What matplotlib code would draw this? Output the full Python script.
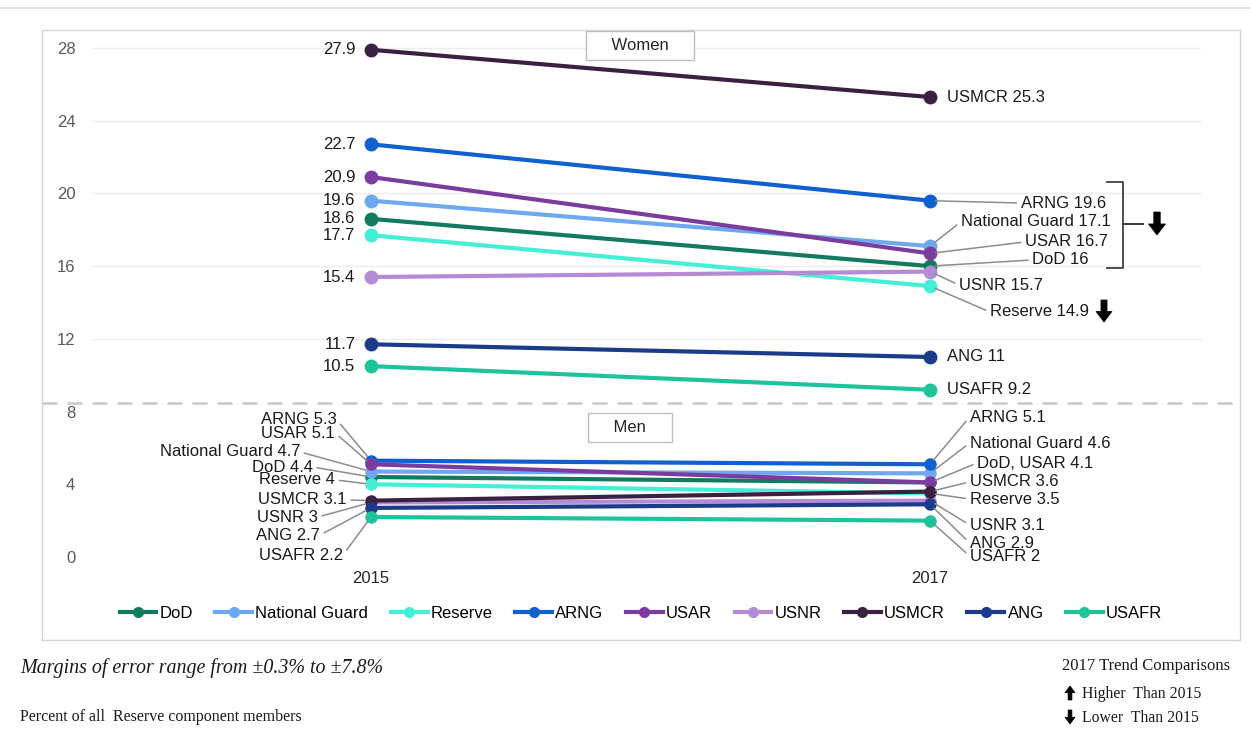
import matplotlib
matplotlib.use("Agg")
import matplotlib.pyplot as plt
from matplotlib.patches import Polygon
from matplotlib.lines import Line2D

W, H = 1250, 734

years = ["2015", "2017"]
series = ["DoD", "National Guard", "Reserve", "ARNG", "USAR", "USNR", "USMCR", "ANG", "USAFR"]
colors = ["#127B5E", "#6DA9F0", "#45EED6", "#1060CF", "#7C3C9E",
          "#B48BD5", "#3A2142", "#1C3C8A", "#1FC39B"]

women_2015 = [18.6, 19.6, 17.7, 22.7, 20.9, 15.4, 27.9, 11.7, 10.5]
women_2017 = [16.0, 17.1, 14.9, 19.6, 16.7, 15.7, 25.3, 11.0, 9.2]
men_2015 = [4.4, 4.7, 4.0, 5.3, 5.1, 3.0, 3.1, 2.7, 2.2]
men_2017 = [4.1, 4.6, 3.5, 5.1, 4.1, 3.1, 3.6, 2.9, 2.0]

yticks = [0, 4, 8, 12, 16, 20, 24, 28]
divider = 8.45

# labels on the right for women, (text, series index, label x, label y)
women_right = [
    ("USMCR 25.3", 6, 1.03, 25.25),
    ("ARNG 19.6", 3, 1.162, 19.47),
    ("National Guard 17.1", 1, 1.055, 18.43),
    ("USAR 16.7", 4, 1.170, 17.33),
    ("DoD 16", 0, 1.183, 16.34),
    ("USNR 15.7", 5, 1.052, 14.96),
    ("Reserve 14.9", 2, 1.107, 13.48),
    ("ANG 11", 7, 1.03, 11.05),
    ("USAFR 9.2", 8, 1.03, 9.24),
]
men_left = [
    ("ARNG 5.3", 3, -0.061, 7.54),
    ("USAR 5.1", 4, -0.064, 6.82),
    ("National Guard 4.7", 1, -0.127, 5.78),
    ("DoD 4.4", 0, -0.104, 4.95),
    ("Reserve 4", 2, -0.064, 4.24),
    ("USMCR 3.1", 6, -0.043, 3.14),
    ("USNR 3", 5, -0.095, 2.20),
    ("ANG 2.7", 7, -0.091, 1.21),
    ("USAFR 2.2", 8, -0.050, 0.11),
]
men_right = [
    ("ARNG 5.1", 3, 1.071, 7.70),
    ("National Guard 4.6", 1, 1.071, 6.27),
    ("DoD, USAR 4.1", 0, 1.084, 5.17),
    ("USMCR 3.6", 6, 1.071, 4.13),
    ("Reserve 3.5", 2, 1.071, 3.19),
    ("USNR 3.1", 5, 1.071, 1.76),
    ("ANG 2.9", 7, 1.071, 0.77),
    ("USAFR 2", 8, 1.071, 0.05),
]

plt.rcParams["font.family"] = ["Liberation Sans", "DejaVu Sans"]

fig = plt.figure(figsize=(W / 100, H / 100), dpi=100)
ax = fig.add_axes([42 / W, (H - 640) / H, (1240 - 42) / W, (640 - 30) / H])

px_per_x = 559.0
px_per_y = 18.18
ax.set_xlim((42 - 371) / px_per_x, (1240 - 371) / px_per_x)
ax.set_ylim(-(640 - 557) / px_per_y, (557 - 30) / px_per_y)

for s in ax.spines.values():
    s.set_color("#D6D6D6")
    s.set_linewidth(1.0)

ax.set_yticks(yticks)
ax.set_yticklabels([str(v) for v in yticks])
ax.tick_params(axis="y", length=0, pad=-24, labelsize=12, labelcolor="#595959")
ax.set_xticks([0, 1])
ax.set_xticklabels(years)
ax.tick_params(axis="x", length=0, pad=-50, labelsize=12, labelcolor="#262626")

grid_x0 = (92 - 371) / px_per_x
grid_x1 = (1200 - 371) / px_per_x
for v in yticks[3:]:
    ax.plot([grid_x0, grid_x1], [v, v], color="#EDEDED", lw=1, zorder=0)
ax.axhline(divider, color="#C8C8C8", lw=1.8, ls=(0, (6, 4)), zorder=1)

for i, name in enumerate(series):
    ax.plot([0, 1], [women_2015[i], women_2017[i]], color=colors[i], lw=3,
            marker="o", ms=9, zorder=3, solid_capstyle="round")
    ax.plot([0, 1], [men_2015[i], men_2017[i]], color=colors[i], lw=3,
            marker="o", ms=8, zorder=3, solid_capstyle="round")
    ax.text(-0.028, women_2015[i], f"{women_2015[i]:g}", ha="right", va="center",
            fontsize=12, color="#1A1A1A")

lead = dict(arrowstyle="-", color="#8C8C8C", lw=1.1, shrinkA=1, shrinkB=4,
            connectionstyle="arc3,rad=0")
for text, i, lx, ly in women_right:
    if lx < 1.04:
        ax.text(lx, ly, text, ha="left", va="center", fontsize=12, color="#1A1A1A")
    else:
        ax.annotate(text, xy=(1, women_2017[i]), xytext=(lx, ly), ha="left",
                    va="center", fontsize=12, color="#1A1A1A",
                    arrowprops=dict(lead, relpos=(0, 0.5)))
for text, i, lx, ly in men_left:
    ax.annotate(text, xy=(0, men_2015[i]), xytext=(lx, ly), ha="right",
                va="center", fontsize=12, color="#1A1A1A",
                arrowprops=dict(lead, relpos=(1, 0.5)))
for text, i, lx, ly in men_right:
    ax.annotate(text, xy=(1, men_2017[i]), xytext=(lx, ly), ha="left",
                va="center", fontsize=12, color="#1A1A1A",
                arrowprops=dict(lead, relpos=(0, 0.5)))


def fx(px):
    return px / W


def fy(py):
    return 1 - py / H


box = dict(boxstyle="square,pad=0.42", fc="white", ec="#BFBFBF", lw=1)
fig.text(fx(640), fy(45), "    Women    ", ha="center", va="center", fontsize=12,
         color="#262626", bbox=box, zorder=5)
fig.text(fx(630), fy(427), "    Men    ", ha="center", va="center", fontsize=12,
         color="#262626", bbox=box, zorder=5)

# bracket around ARNG..DoD
bx = [1107, 1123, 1123, 1143, 1123, 1123, 1107]
by = [182, 182, 224, 224, 224, 268, 268]
fig.add_artist(Line2D([fx(v) for v in bx], [fy(v) for v in by], color="#404040", lw=1.3))


def block_arrow(cx, top, height, width, up=False):
    shaft = width * 0.38
    head = height * 0.48
    if up:
        pts = [(cx, top), (cx + width / 2, top + head), (cx + shaft / 2, top + head),
               (cx + shaft / 2, top + height), (cx - shaft / 2, top + height),
               (cx - shaft / 2, top + head), (cx - width / 2, top + head)]
    else:
        bot = top + height
        pts = [(cx, bot), (cx + width / 2, bot - head), (cx + shaft / 2, bot - head),
               (cx + shaft / 2, top), (cx - shaft / 2, top),
               (cx - shaft / 2, bot - head), (cx - width / 2, bot - head)]
    fig.add_artist(Polygon([(fx(x), fy(y)) for x, y in pts], closed=True,
                           fc="black", ec="black", lw=0.5,
                           transform=fig.transFigure))


block_arrow(1157, 212, 23, 17)
block_arrow(1104, 300, 22, 16)

# legend
handles = [Line2D([], [], color=c, lw=3, marker="o", ms=7) for c in colors]
ax.legend(handles, series, loc="center", bbox_to_anchor=(0.5, (640 - 613) / 610),
          ncol=9, frameon=False, fontsize=12, handlelength=2.2, handletextpad=0.2,
          columnspacing=1.35)

# footer
serif = ["Liberation Serif", "DejaVu Serif"]
fig.add_artist(Line2D([0, 1], [fy(8), fy(8)], color="#E0E0E0", lw=1.5))
fig.text(fx(20), fy(668), "Margins of error range from \u00b10.3% to \u00b17.8%",
         family=serif, style="italic", fontsize=14.4, ha="left", va="center", color="#1A1A1A")
fig.text(fx(20), fy(717), "Percent of all  Reserve component members",
         family=serif, fontsize=11.5, ha="left", va="center", color="#1A1A1A")
fig.text(fx(1062), fy(666), "2017 Trend Comparisons",
         family=serif, fontsize=12, ha="left", va="center", color="#1A1A1A")
fig.text(fx(1082), fy(694), "Higher  Than 2015",
         family=serif, fontsize=11.3, ha="left", va="center", color="#1A1A1A")
fig.text(fx(1082), fy(718), "Lower  Than 2015",
         family=serif, fontsize=11.3, ha="left", va="center", color="#1A1A1A")
block_arrow(1070, 686, 14, 10, up=True)
block_arrow(1070, 710, 14, 10)

fig.savefig("out.png", dpi=100)
